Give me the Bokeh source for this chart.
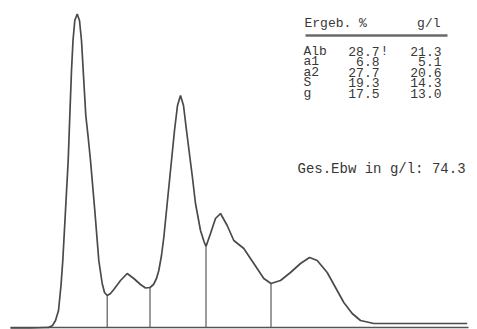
from bokeh.plotting import figure
from bokeh.models import Range1d, BoxAnnotation
from bokeh.core.properties import value
from bokeh.embed import file_html
from bokeh.resources import INLINE

# Densitometer trace (migration position, absorbance height)
trace_x = [10, 30, 45, 48, 52, 55, 58, 60.5, 62.3, 65, 67.7, 69.5, 71, 72.5, 74.3, 76.7,
           79, 81, 83.5, 85.3, 87.5, 90, 94.3, 98.3, 101.7, 104, 106.7,
           110, 113.3, 120, 126.7, 133.3, 140, 145, 149.5,
           153, 156, 158.3, 161, 163.3, 166.7, 170, 172, 174, 177, 180,
           183, 186, 191.7, 195, 200, 203.5, 205.5,
           210, 215, 220, 226.7, 233.3, 243.3, 253.3, 263.3, 270.5,
           280, 290, 300, 309, 316.7, 326.7, 335, 343.3, 351.7, 360,
           373.3, 413.3, 466.7]
trace_h = [-0.5, -0.5, 0, 0, 2, 7, 17, 42, 67, 117, 167, 217, 257, 287, 307, 313.5,
           307, 287, 243, 212, 192, 167, 117, 67, 44, 35, 32,
           34, 38, 47, 54, 49, 43, 39.5, 40,
           43, 49, 57, 72, 90, 124, 157, 177, 197, 222, 232,
           222, 197, 152, 124, 97, 86, 81,
           94, 109, 114, 102, 87, 79, 64, 49, 44,
           47, 55, 64, 70, 67, 55, 40, 25, 14, 7,
           4, 4, 4]

# Fraction boundaries (position, trace height at the cut)
cut_x = [106.7, 149.5, 205.5, 270.5]
cut_h = [32, 40, 81, 44]

# Result table
fractions = ["Alb", "a1", "a2", "S", "g"]
percent = [28.7, 6.8, 27.7, 19.3, 17.5]
flags = ["!", "", "", "", ""]
g_per_l = [21.3, 5.1, 20.6, 14.3, 13.0]
total_g_per_l = 74.3

baseline_x = [10, 468]

p = figure(width=477, height=329, output_backend="svg", toolbar_location=None,
           x_range=Range1d(0, 477), y_range=Range1d(-2, 327),
           x_axis_location=None, y_axis_location=None, min_border=0)
p.grid.visible = False
p.outline_line_color = None

ink = "#4a4a4a"
p.line(baseline_x, [0, 0], line_color="#555555", line_width=1.5)
p.segment(x0=cut_x, y0=[0] * len(cut_x), x1=cut_x, y1=cut_h, line_color="#5a5a5a", line_width=1.2)
p.line(trace_x, trace_h, line_color=ink, line_width=1.7)

# header rule of the result table
p.add_layout(BoxAnnotation(left=305, right=447, bottom=290.8, top=293.2,
                           fill_color="#6a6a6a", fill_alpha=1.0, line_color=None, level="overlay"))

font = value("Liberation Mono")
txt_color = "#383838"
fs = "13px"
common = dict(text_font=font, text_font_size=fs, text_color=txt_color, text_baseline="middle")

p.text(x=[304], y=[304], text=["Ergeb. %"], text_align="left", **common)
p.text(x=[440], y=[304], text=["g/l"], text_align="right", **common)

row_y = [276.5 - 10.5 * i for i in range(len(fractions))]
p.text(x=[303] * len(fractions), y=row_y, text=fractions, text_align="left", **common)
p.text(x=[379] * len(percent), y=row_y, text=[f"{v:.1f}" for v in percent], text_align="right", **common)
flag_y = [y for y, f in zip(row_y, flags) if f]
flag_t = [f for f in flags if f]
p.text(x=[380] * len(flag_t), y=flag_y, text=flag_t, text_align="left", **common)
p.text(x=[441] * len(g_per_l), y=row_y, text=[f"{v:.1f}" for v in g_per_l], text_align="right", **common)

p.text(x=[297], y=[159], text=[f"Ges.Ebw in g/l: {total_g_per_l:.1f}"], text_align="left",
       text_font=font, text_font_size="14px", text_color=txt_color, text_baseline="middle")

open("out.html", "w").write(file_html(p, INLINE))
